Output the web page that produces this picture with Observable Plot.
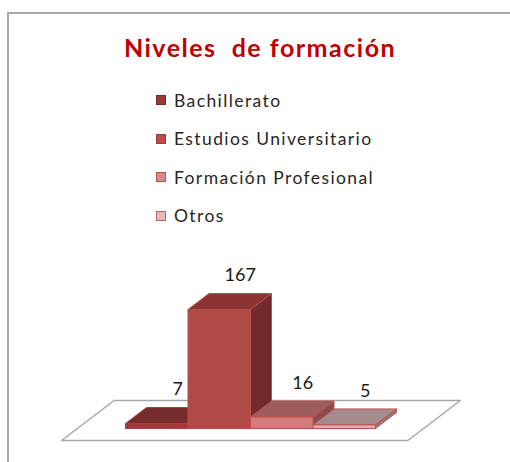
<!DOCTYPE html>
<html>
<head>
<meta charset="utf-8">
<script src="https://cdn.jsdelivr.net/npm/d3@7"></script>
<script src="https://cdn.jsdelivr.net/npm/@observablehq/plot@0.6"></script>
<style>
  html, body { margin: 0; padding: 0; background: #fff; overflow: hidden; }
  #wrap { position: relative; width: 510px; height: 462px; font-family: Lato, "Liberation Sans", Arial, sans-serif; }
  #border { position: absolute; left: 7px; top: 12px; width: 520px; height: 470px; border-left: 2px solid #a9a9a9; border-top: 2px solid #a9a9a9; box-sizing: border-box; }
  #header { position: relative; height: 250px; }
  #title { position: absolute; left: 0; width: 520px; top: 32px; text-align: center; font-weight: bold; font-size: 25px; letter-spacing: 1.5px; color: #C00000; white-space: pre; line-height: 30px; }
  .item { position: absolute; left: 156px; height: 20px; display: flex; align-items: center; font-size: 17.5px; letter-spacing: 1.4px; color: #262626; white-space: nowrap; }
  .sw { width: 10px; height: 10px; margin-right: 8px; box-sizing: border-box; border: 1px solid; }
  #chart { position: relative; height: 212px; }
  #chart svg { display: block; }
</style>
</head>
<body>
<div id="wrap">
  <div id="border"></div>
  <div id="header">
    <div id="title">Niveles  de formación</div>
    <div id="legend"></div>
  </div>
  <div id="chart"></div>
</div>
<script>
// ---- data ----
const categories = ["Bachillerato", "Estudios Universitario", "Formación Profesional", "Otros"];
const values = [7, 167, 16, 5];
const frontColors = ["#9B3B39", "#B04A47", "#D07C7B", "#E2AEAD"];
const topColors   = ["#772D2B", "#8B3432", "#9C5D5C", "#A58C8C"];
const sideColors  = ["#6A2625", "#722B2A", "#8A4C4B", "#93797A"];
const edgeColors  = ["#A8413F", "#B8504D", "#C0504D", "#C0504D"];
const legendFill  = ["#9A3A38", "#BE4D4A", "#D68A89", "#E6B9B8"];
const legendEdge  = ["#7A2C2A", "#9E3E3C", "#B5504E", "#B06464"];

// ---- legend ----
const legend = document.getElementById("legend");
categories.forEach((c, i) => {
  const it = document.createElement("div");
  it.className = "item";
  it.style.top = (90 + i * 38.5) + "px";
  const sw = document.createElement("span");
  sw.className = "sw";
  sw.style.background = legendFill[i];
  sw.style.borderColor = legendEdge[i];
  it.appendChild(sw);
  it.appendChild(document.createTextNode(c));
  legend.appendChild(it);
});

// ---- 3D projection in data units ----
const depthX = 0.336;  // x-units per unit depth
const depthV = 22.45;  // value-units per unit depth
const P = (x, v, d) => ({x: x + d * depthX, y: v + d * depthV});

const faces = [];
let fid = 0;
function face(pts, fill, stroke) {
  const id = fid++;
  [...pts, pts[0]].forEach(p => faces.push({...p, id, fill, stroke}));
}
values.forEach((v, i) => {
  const x0 = i, x1 = i + 1;
  face([P(x1, 0, 0), P(x1, 0, 1), P(x1, v, 1), P(x1, v, 0)], sideColors[i], edgeColors[i]);
  face([P(x0, v, 0), P(x1, v, 0), P(x1, v, 1), P(x0, v, 1)], topColors[i], edgeColors[i]);
  face([P(x0, 0, 0), P(x1, 0, 0), P(x1, v, 0), P(x0, v, 0)], frontColors[i], edgeColors[i]);
});

// floor plane
const fx0 = -0.77, fx1 = categories.length + 0.77, fd0 = -0.75, fd1 = 1.75;
const floor = [P(fx0, 0, fd0), P(fx1, 0, fd0), P(fx1, 0, fd1), P(fx0, 0, fd1), P(fx0, 0, fd0)];

const labels = values.map((v, i) => ({...P(i + 0.5, v, 1), t: String(v)}));

const plot = Plot.plot({
  width: 510,
  height: 212,
  marginLeft: 125,
  marginRight: 135,
  marginTop: 59,
  marginBottom: 34,
  x: {type: "linear", domain: [0, categories.length], axis: null},
  y: {type: "linear", domain: [0, 167], axis: null},
  style: {background: "transparent", overflow: "visible"},
  marks: [
    Plot.line(floor, {x: "x", y: "y", fill: "white", stroke: "#a6a6a6", strokeWidth: 1.5}),
    Plot.line(faces, {x: "x", y: "y", z: "id", fill: "fill", stroke: "stroke", strokeWidth: 1, strokeLinejoin: "round"}),
    Plot.text(labels, {x: "x", y: "y", text: "t", dy: -18, fontSize: 18, letterSpacing: 0.5, fill: "#1a1a1a", fontFamily: "Lato, Liberation Sans, Arial, sans-serif"})
  ]
});
document.getElementById("chart").appendChild(plot);
</script>
</body>
</html>
